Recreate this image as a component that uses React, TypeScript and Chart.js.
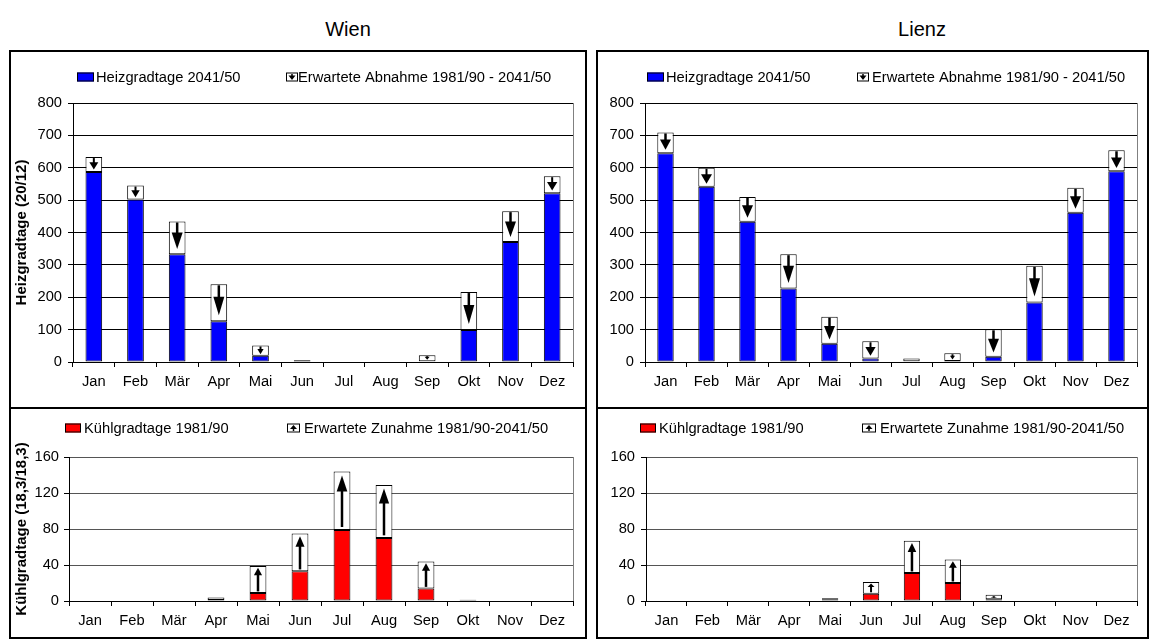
import React, { useEffect, useRef } from "react";
import { Chart, registerables } from "chart.js";

Chart.register(...registerables);

const FONT = '"Liberation Sans", Arial, Helvetica, sans-serif';
const TEXT_SIZE = 14.7;

// ---------- data ----------
const MONTHS = ["Jan", "Feb", "Mär", "Apr", "Mai", "Jun", "Jul", "Aug", "Sep", "Okt", "Nov", "Dez"];

const HGT_TICKS = [0, 100, 200, 300, 400, 500, 600, 700, 800];
const KGT_TICKS = [0, 40, 80, 120, 160];

// Heizgradtage 2041/50 and expected decrease 1981/90 -> 2041/50
const WIEN_HGT_2041 = [587, 502, 333, 126, 19, 4, 0, 0, 2, 99, 371, 521];
const WIEN_HGT_DECREASE = [46, 43, 101, 114, 32, 2, 0, 0, 19, 117, 95, 53];
const LIENZ_HGT_2041 = [645, 541, 433, 227, 56, 11, 2, 3, 16, 184, 461, 589];
const LIENZ_HGT_DECREASE = [64, 59, 77, 106, 84, 53, 9, 24, 85, 113, 77, 65];

// Kühlgradtage 1981/90 and expected increase 1981/90 -> 2041/50
const WIEN_KGT_1981 = [0, 0, 0, 1, 9, 33, 79, 70, 14, 0.5, 0, 0];
const WIEN_KGT_INCREASE = [0, 0, 0, 3, 30, 42, 65, 59, 30, 1, 0, 0];
const LIENZ_KGT_1981 = [0, 0, 0, 0, 2, 8, 31, 20, 2, 0, 0, 0];
const LIENZ_KGT_INCREASE = [0, 0, 0, 0, 1, 13, 36, 26, 5, 0, 0, 0];

const HGT_LABEL = "Heizgradtage 2041/50";
const HGT_DELTA_LABEL = "Erwartete Abnahme 1981/90 - 2041/50";
const KGT_LABEL = "Kühlgradtage 1981/90";
const KGT_DELTA_LABEL = "Erwartete Zunahme 1981/90-2041/50";

// ---------- plugins ----------
function drawArrowShape(ctx: CanvasRenderingContext2D, cx: number, top: number, bottom: number, dir: string, small: boolean) {
  const h = bottom - top;
  if (dir === "down") {
    const headH = small ? h * 0.5 : Math.min(h * 0.5, 22);
    const headW = small ? 7 : Math.min(11, Math.max(5, h * 0.6));
    const tip = bottom - (small ? 1.5 : Math.max(1.5, h * 0.16));
    const hb = tip - headH;
    ctx.lineWidth = small ? 1.5 : h > 20 ? 2.5 : 2;
    ctx.beginPath();
    ctx.moveTo(cx, top + (small ? 1.5 : 1));
    ctx.lineTo(cx, hb + 1);
    ctx.stroke();
    ctx.beginPath();
    ctx.moveTo(cx - headW / 2, hb);
    ctx.lineTo(cx + headW / 2, hb);
    ctx.lineTo(cx, tip);
    ctx.closePath();
    ctx.fill();
  } else {
    const headH = small ? h * 0.45 : Math.min(h * 0.28, 16);
    const headW = small ? 7 : Math.min(12, Math.max(5, 6 + h * 0.08));
    const tip = top + (small ? 1.5 : Math.max(1.5, h * 0.07));
    const hb = tip + headH;
    const tail = bottom - (small ? 1.5 : Math.max(1.5, h * 0.05));
    ctx.lineWidth = small ? 1.5 : h > 20 ? 2.5 : 2;
    ctx.beginPath();
    ctx.moveTo(cx, hb - 1);
    ctx.lineTo(cx, tail);
    ctx.stroke();
    ctx.beginPath();
    ctx.moveTo(cx - headW / 2, hb);
    ctx.lineTo(cx + headW / 2, hb);
    ctx.lineTo(cx, tip);
    ctx.closePath();
    ctx.fill();
  }
}

const deltaArrows = {
  id: "deltaArrows",
  afterDatasetsDraw(chart: any, _args: any, opts: any) {
    const meta = chart.getDatasetMeta(1);
    const ctx: CanvasRenderingContext2D = chart.ctx;
    ctx.save();
    ctx.fillStyle = "#000";
    ctx.strokeStyle = "#000";
    meta.data.forEach((el: any) => {
      const p = el.getProps(["x", "y", "base"], true);
      const top = Math.min(p.y, p.base);
      const bottom = Math.max(p.y, p.base);
      if (bottom - top < 3) return;
      drawArrowShape(ctx, p.x, top, bottom, opts.direction, false);
    });
    ctx.restore();
  },
};

const plotFrame = {
  id: "plotFrame",
  beforeDatasetsDraw(chart: any) {
    const { ctx, chartArea } = chart;
    ctx.save();
    ctx.strokeStyle = "#808080";
    ctx.lineWidth = 1;
    ctx.beginPath();
    ctx.moveTo(Math.round(chartArea.right) + 0.5, chartArea.top);
    ctx.lineTo(Math.round(chartArea.right) + 0.5, chartArea.bottom);
    ctx.stroke();
    ctx.restore();
  },
};

const sideLegend = {
  id: "sideLegend",
  afterDraw(chart: any, _args: any, opts: any) {
    const ctx: CanvasRenderingContext2D = chart.ctx;
    const ds = chart.data.datasets;
    ctx.save();
    ctx.font = `${TEXT_SIZE}px ${FONT}`;
    ctx.textBaseline = "middle";
    ctx.textAlign = "left";
    const y = opts.y;
    // item 1: coloured box
    const a = opts.item1;
    ctx.fillStyle = ds[0].backgroundColor;
    ctx.fillRect(a.x, y - a.h / 2, a.w, a.h);
    ctx.strokeStyle = "#000";
    ctx.lineWidth = 1;
    ctx.strokeRect(a.x + 0.5, y - a.h / 2 + 0.5, a.w - 1, a.h - 1);
    ctx.fillStyle = "#000";
    ctx.fillText(ds[0].label, a.textX, y + 1);
    // item 2: box with arrow
    const b = opts.item2;
    ctx.fillStyle = "#fff";
    ctx.fillRect(b.x, y - b.h / 2, b.w, b.h);
    ctx.strokeStyle = "#000";
    ctx.strokeRect(b.x + 0.5, y - b.h / 2 + 0.5, b.w - 1, b.h - 1);
    ctx.fillStyle = "#000";
    drawArrowShape(ctx, b.x + b.w / 2, y - b.h / 2, y + b.h / 2, opts.direction, true);
    ctx.fillText(ds[1].label, b.textX, y + 1);
    ctx.restore();
  },
};

// ---------- config ----------
type Panel = {
  left: number;
  top: number;
  width: number;
  height: number;
  area: { left: number; top: number; right: number; bottom: number };
  base: number[];
  delta: number[];
  baseLabel: string;
  deltaLabel: string;
  color: string;
  ticks: number[];
  yTitle: string;
  yTickPad: number;
  gridColor: string;
  direction: string;
  legend: any;
};

function makeConfig(p: Panel): any {
  const yW = p.area.left - p.left;
  const xH = p.top + p.height - p.area.bottom;
  const rel = (o: any) => ({
    x: o.x - p.left,
    w: o.w,
    h: o.h,
    textX: o.textX - p.left,
  });
  return {
    type: "bar",
    data: {
      labels: MONTHS,
      datasets: [
        {
          label: p.baseLabel,
          data: p.base,
          backgroundColor: p.color,
          borderColor: "#000",
          borderWidth: 1,
          borderSkipped: false,
          categoryPercentage: 1,
          barPercentage: 0.4,
        },
        {
          label: p.deltaLabel,
          data: p.delta,
          backgroundColor: "#fff",
          borderColor: "#000",
          borderWidth: 1,
          borderSkipped: false,
          categoryPercentage: 1,
          barPercentage: 0.4,
        },
      ],
    },
    options: {
      responsive: false,
      animation: false,
      devicePixelRatio: 1,
      layout: {
        padding: {
          left: 0,
          top: p.area.top - p.top,
          right: p.left + p.width - p.area.right,
          bottom: 0,
        },
      },
      plugins: {
        legend: { display: false },
        tooltip: { enabled: false },
        deltaArrows: { direction: p.direction },
        sideLegend: {
          y: p.legend.y - p.top,
          direction: p.direction,
          item1: rel(p.legend.item1),
          item2: rel(p.legend.item2),
        },
      },
      scales: {
        x: {
          stacked: true,
          offset: true,
          grid: {
            display: true,
            drawOnChartArea: false,
            drawTicks: true,
            tickLength: 5,
            offset: true,
            color: "#000",
          },
          border: { display: true, color: "#000", width: 1 },
          ticks: {
            color: "#000",
            font: { family: FONT, size: TEXT_SIZE },
            padding: 6,
            maxRotation: 0,
            autoSkip: false,
          },
          afterFit: (s: any) => {
            s.height = xH;
          },
        },
        y: {
          stacked: true,
          min: p.ticks[0],
          max: p.ticks[p.ticks.length - 1],
          afterBuildTicks: (s: any) => {
            s.ticks = p.ticks.map((v) => ({ value: v }));
          },
          grid: {
            color: p.gridColor,
            tickColor: "#000",
            drawTicks: true,
            tickLength: 5,
          },
          border: { display: true, color: "#000", width: 1 },
          ticks: {
            color: "#000",
            font: { family: FONT, size: TEXT_SIZE },
            padding: p.yTickPad,
          },
          title: {
            display: p.yTitle !== "",
            text: p.yTitle,
            color: "#000",
            font: { family: FONT, size: 15, weight: "bold" },
            padding: { top: 4, bottom: 0 },
          },
          afterFit: (s: any) => {
            s.width = yW;
          },
        },
      },
    },
    plugins: [plotFrame, deltaArrows, sideLegend],
  };
}

const PANELS: Panel[] = [
  {
    left: 9, top: 50, width: 578, height: 358,
    area: { left: 73, top: 103, right: 573, bottom: 362 },
    base: WIEN_HGT_2041, delta: WIEN_HGT_DECREASE,
    baseLabel: HGT_LABEL, deltaLabel: HGT_DELTA_LABEL,
    color: "#0000FF", ticks: HGT_TICKS, yTitle: "Heizgradtage (20/12)", yTickPad: 6,
    gridColor: "#000", direction: "down",
    legend: {
      y: 77,
      item1: { x: 77, w: 17, h: 9, textX: 96 },
      item2: { x: 286, w: 12, h: 9, textX: 298 },
    },
  },
  {
    left: 9, top: 408, width: 578, height: 230,
    area: { left: 69, top: 457, right: 573, bottom: 601 },
    base: WIEN_KGT_1981, delta: WIEN_KGT_INCREASE,
    baseLabel: KGT_LABEL, deltaLabel: KGT_DELTA_LABEL,
    color: "#FF0000", ticks: KGT_TICKS, yTitle: "Kühlgradtage (18,3/18,3)", yTickPad: 5,
    gridColor: "#555", direction: "up",
    legend: {
      y: 428,
      item1: { x: 65, w: 16, h: 9, textX: 84 },
      item2: { x: 287, w: 13, h: 9, textX: 304 },
    },
  },
  {
    left: 597, top: 50, width: 553, height: 358,
    area: { left: 645, top: 103, right: 1137, bottom: 362 },
    base: LIENZ_HGT_2041, delta: LIENZ_HGT_DECREASE,
    baseLabel: HGT_LABEL, deltaLabel: HGT_DELTA_LABEL,
    color: "#0000FF", ticks: HGT_TICKS, yTitle: "", yTickPad: 6,
    gridColor: "#000", direction: "down",
    legend: {
      y: 77,
      item1: { x: 647, w: 17, h: 9, textX: 666 },
      item2: { x: 857, w: 12, h: 9, textX: 872 },
    },
  },
  {
    left: 597, top: 408, width: 553, height: 230,
    area: { left: 646, top: 457, right: 1137, bottom: 601 },
    base: LIENZ_KGT_1981, delta: LIENZ_KGT_INCREASE,
    baseLabel: KGT_LABEL, deltaLabel: KGT_DELTA_LABEL,
    color: "#FF0000", ticks: KGT_TICKS, yTitle: "", yTickPad: 6,
    gridColor: "#555", direction: "up",
    legend: {
      y: 428,
      item1: { x: 640, w: 16, h: 9, textX: 659 },
      item2: { x: 862, w: 14, h: 9, textX: 880 },
    },
  },
];

const BOXES = [
  { left: 9, top: 50, width: 578, height: 359 },
  { left: 9, top: 407, width: 578, height: 232 },
  { left: 596, top: 50, width: 553, height: 359 },
  { left: 596, top: 407, width: 553, height: 232 },
];

export default function App() {
  const refs = [
    useRef<HTMLCanvasElement>(null),
    useRef<HTMLCanvasElement>(null),
    useRef<HTMLCanvasElement>(null),
    useRef<HTMLCanvasElement>(null),
  ];

  useEffect(() => {
    const charts: Chart[] = [];
    PANELS.forEach((p, i) => {
      const c = refs[i].current;
      if (!c) return;
      charts.push(new Chart(c, makeConfig(p)));
    });
    return () => {
      charts.forEach((ch) => ch.destroy());
    };
  }, []);

  const titleStyle = (cx: number): React.CSSProperties => ({
    position: "absolute",
    left: cx - 100,
    width: 200,
    top: 18,
    textAlign: "center",
    fontFamily: FONT,
    fontSize: 20,
    color: "#000",
    lineHeight: "normal",
  });

  return (
    <div
      style={{
        position: "fixed",
        left: 0,
        top: 0,
        width: 1150,
        height: 642,
        background: "#fff",
        overflow: "hidden",
      }}
    >
      <div style={titleStyle(348)}>Wien</div>
      <div style={titleStyle(922)}>Lienz</div>
      {BOXES.map((b, i) => (
        <div
          key={"b" + i}
          style={{
            position: "absolute",
            left: b.left,
            top: b.top,
            width: b.width,
            height: b.height,
            border: "2px solid #000",
            boxSizing: "border-box",
          }}
        />
      ))}
      {PANELS.map((p, i) => (
        <canvas
          key={"c" + i}
          ref={refs[i]}
          width={p.width}
          height={p.height}
          style={{
            position: "absolute",
            left: p.left,
            top: p.top,
            width: p.width,
            height: p.height,
          }}
        />
      ))}
    </div>
  );
}
